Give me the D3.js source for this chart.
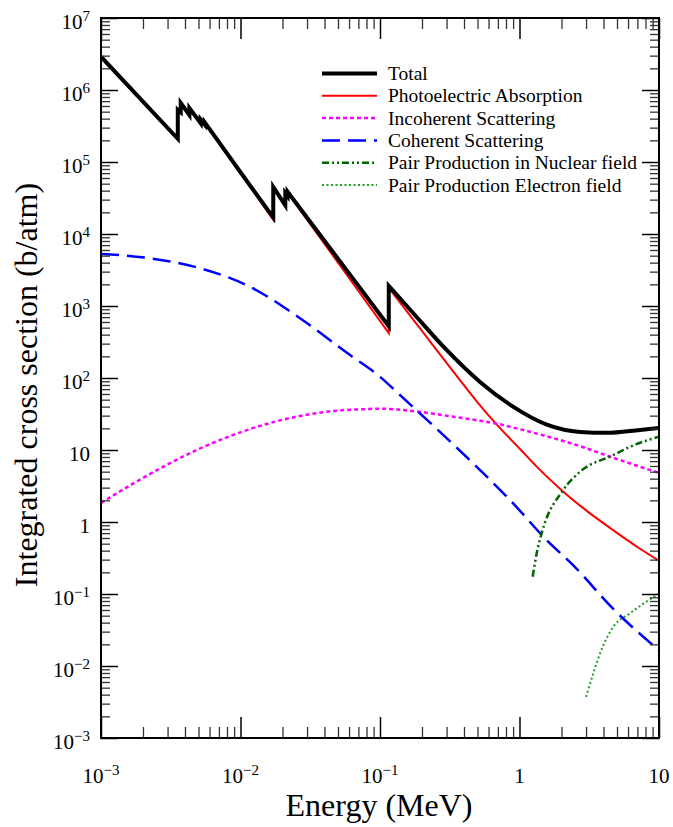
<!DOCTYPE html>
<html>
<head>
<meta charset="utf-8">
<script src="https://cdn.jsdelivr.net/npm/d3@7"></script>
<style>
  body { margin: 0; background: #fff; }
  svg { display: block; }
  text { fill: #000; }
</style>
</head>
<body>
<svg id="chart" width="673" height="827" font-family="'Liberation Serif', 'Times New Roman', 'DejaVu Serif', serif"></svg>
<script>
// Photon cross sections, energy in MeV, cross section in barns/atom.
// Absorption edges appear as two points at the same energy (below / above).
const totalData = [
  [1e-3, 2.9e6], [3.552e-3, 2.1e5], [3.552e-3, 5.3e5], [3.728e-3, 4.9e5], [3.728e-3, 6.6e5],
  [4.303e-3, 4.5e5], [4.303e-3, 5.6e5], [5.182e-3, 3.45e5], [5.182e-3, 3.9e5],
  [5.548e-3, 3.3e5], [5.548e-3, 3.55e5], [1e-2, 7.2e4], [1.717e-2, 1.7e4], [1.717e-2, 4.5e4],
  [2.095e-2, 2.5e4], [2.095e-2, 3.7e4], [2.176e-2, 3.35e4], [2.176e-2, 3.85e4],
  [0.1156, 525], [0.1156, 1900], [0.1727, 800], [0.3, 245], [0.521, 88], [0.898, 40],
  [1.57, 22.5], [2.72, 17.8], [4.24, 17.3], [7.31, 19], [10, 20.2]
];
const photoData = [
  [1e-3, 2.88e6], [3.552e-3, 2.05e5], [3.552e-3, 5.25e5], [3.728e-3, 4.85e5], [3.728e-3, 6.55e5],
  [4.303e-3, 4.45e5], [4.303e-3, 5.55e5], [5.182e-3, 3.4e5], [5.182e-3, 3.85e5],
  [5.548e-3, 3.25e5], [5.548e-3, 3.5e5], [1e-2, 7.0e4], [1.717e-2, 1.57e4], [1.717e-2, 4.35e4],
  [2.095e-2, 2.4e4], [2.095e-2, 3.6e4], [2.176e-2, 3.25e4], [2.176e-2, 3.75e4],
  [0.1156, 420], [0.1156, 1780], [0.15, 930], [0.2, 450], [0.3, 162], [0.5, 46], [0.667, 24],
  [1.0, 10.5], [1.4, 5.3], [2.06, 2.64], [3.0, 1.45], [4.7, 0.77], [7, 0.45], [10, 0.29]
];
const incoherentData = [
  [1e-3, 1.84], [1.71e-3, 3.44], [2.96e-3, 6.2], [5.13e-3, 10.5], [8.87e-3, 16.2],
  [0.0154, 23], [0.0267, 29.7], [0.0463, 34.8], [0.0803, 37], [0.1, 37.5], [0.183, 34.3],
  [0.3, 30], [0.521, 25.5], [0.667, 23.5], [1.0, 19.5], [1.567, 15.5], [2.72, 11.3],
  [4.7, 7.8], [10, 4.8]
];
const coherentData = [
  [1e-3, 5300], [2.24e-3, 4600], [5.13e-3, 3340], [0.0117, 1850], [0.0267, 675],
  [0.061, 208], [0.1, 104], [0.139, 58], [0.521, 5.27], [0.855, 2.02], [1.567, 0.56],
  [2.43, 0.25], [4.7, 0.062], [10, 0.0165]
];
const pairNuclearData = [
  [1.243, 0.174], [1.328, 0.367], [1.442, 0.70], [2.06, 2.78], [2.72, 5.0],
  [4.7, 8.5], [6.2, 11.1], [10, 15.3]
];
const pairElectronData = [
  [3.0, 0.0037], [3.38, 0.0079], [3.78, 0.015], [4.7, 0.035], [6.2, 0.054], [10, 0.102]
];

const seriesLabels = [
  "Total", "Photoelectric Absorption", "Incoherent Scattering",
  "Coherent Scattering", "Pair Production in Nuclear field", "Pair Production Electron field"
];

// Axis ranges and major tick labels ([mantissa, exponent])
const xDomain = [1e-3, 10];
const yDomain = [1e-3, 1e7];
const xMajorTicks = [1e-3, 1e-2, 1e-1, 1, 10];
const xTickLabels = [["10", "\u22123"], ["10", "\u22122"], ["10", "\u22121"], ["1", ""], ["10", ""]];
const yMajorTicks = [1e7, 1e6, 1e5, 1e4, 1e3, 1e2, 10, 1, 1e-1, 1e-2, 1e-3];
const yTickLabels = [["10", "7"], ["10", "6"], ["10", "5"], ["10", "4"], ["10", "3"], ["10", "2"],
  ["10", ""], ["1", ""], ["10", "\u22121"], ["10", "\u22122"], ["10", "\u22123"]];
const xTitle = "Energy (MeV)";
const yTitle = "Integrated cross section (b/atm)";

// ---- layout ----
const P = { left: 101, right: 659, top: 18, bottom: 738 };
const svg = d3.select("#chart");
const x = d3.scaleLog().domain(xDomain).range([P.left, P.right]);
const y = d3.scaleLog().domain(yDomain).range([P.bottom, P.top]);

function minorTicks(domain) {
  const out = [];
  const e0 = Math.round(Math.log10(domain[0])), e1 = Math.round(Math.log10(domain[1]));
  for (let e = e0; e < e1; e++) for (let k = 2; k <= 9; k++) out.push(k * Math.pow(10, e));
  return out;
}

svg.append("defs").append("clipPath").attr("id", "plotClip")
  .append("rect").attr("x", P.left).attr("y", P.top)
  .attr("width", P.right - P.left).attr("height", P.bottom - P.top);

// ---- curves ----
const lineGen = d3.line().x(d => x(d[0])).y(d => y(d[1])).curve(d3.curveMonotoneX);
function pathFor(data) {
  // split at edges (repeated energies) so each piece is monotone in x, then join with vertical steps
  const runs = [];
  let cur = [data[0]];
  for (let i = 1; i < data.length; i++) {
    if (data[i][0] === data[i - 1][0]) { runs.push(cur); cur = [data[i]]; }
    else cur.push(data[i]);
  }
  runs.push(cur);
  return runs.map((r, i) => {
    const p = lineGen(r.length === 1 ? [r[0], r[0]] : r);
    return i ? "L" + p.slice(1) : p;
  }).join("");
}

const styles = [
  { color: "#000000", width: 4, dash: null },
  { color: "#ff0000", width: 2, dash: null },
  { color: "#ff00ff", width: 2.5, dash: "4,3" },
  { color: "#0000ff", width: 2.5, dash: "18,8" },
  { color: "#006400", width: 2.5, dash: "7,3,2,3,2,3" },
  { color: "#1fa01f", width: 2, dash: "2,2.5" }
];
const seriesData = [totalData, photoData, incoherentData, coherentData, pairNuclearData, pairElectronData];

const plot = svg.append("g").attr("clip-path", "url(#plotClip)");
// components first, total on top
[1, 2, 3, 4, 5, 0].forEach(i => {
  plot.append("path")
    .attr("d", pathFor(seriesData[i]))
    .attr("fill", "none")
    .attr("stroke", styles[i].color)
    .attr("stroke-width", styles[i].width)
    .attr("stroke-dasharray", styles[i].dash)
    .attr("stroke-linejoin", "miter");
});

// ---- axes: ticks on all four sides, pointing inward ----
function tickRow(axisFn, scale, values, len, transform, color, width) {
  const g = svg.append("g").attr("transform", transform)
    .call(axisFn(scale).tickValues(values).tickSize(-len).tickFormat(""));
  g.select(".domain").remove();
  g.selectAll("line").attr("stroke", color).attr("stroke-width", width);
}
const xMinor = minorTicks(xDomain), yMinor = minorTicks(yDomain);
tickRow(d3.axisBottom, x, xMajorTicks, 21, `translate(0,${P.bottom})`, "#000", 1.5);
tickRow(d3.axisBottom, x, xMinor, 11, `translate(0,${P.bottom})`, "#333", 1.3);
tickRow(d3.axisTop, x, xMajorTicks, 21, `translate(0,${P.top})`, "#000", 1.5);
tickRow(d3.axisTop, x, xMinor, 11, `translate(0,${P.top})`, "#333", 1.3);
tickRow(d3.axisLeft, y, yMajorTicks, 17, `translate(${P.left},0)`, "#000", 1.5);
tickRow(d3.axisLeft, y, yMinor, 9, `translate(${P.left},0)`, "#333", 1.3);
tickRow(d3.axisRight, y, yMajorTicks, 17, `translate(${P.right},0)`, "#000", 1.5);
tickRow(d3.axisRight, y, yMinor, 9, `translate(${P.right},0)`, "#333", 1.3);

svg.append("rect")
  .attr("x", P.left).attr("y", P.top)
  .attr("width", P.right - P.left).attr("height", P.bottom - P.top)
  .attr("fill", "none").attr("stroke", "#000").attr("stroke-width", 2);

// ---- tick labels ----
function powerLabel(t, lab) {
  t.append("tspan").text(lab[0]);
  if (lab[1]) t.append("tspan").attr("dy", -8).attr("font-size", 15).text(lab[1]);
}
xMajorTicks.forEach((v, i) => {
  const t = svg.append("text").attr("x", x(v)).attr("y", 783)
    .attr("text-anchor", "middle").attr("font-size", 21);
  powerLabel(t, xTickLabels[i]);
});
yMajorTicks.forEach((v, i) => {
  const t = svg.append("text").attr("x", 90).attr("y", y(v) + 10.5)
    .attr("text-anchor", "end").attr("font-size", 21);
  powerLabel(t, yTickLabels[i]);
});

// ---- axis titles ----
svg.append("text").attr("x", 379).attr("y", 816).attr("text-anchor", "middle")
  .attr("font-size", 32).text(xTitle);
svg.append("text").attr("transform", "translate(37,385) rotate(-90)")
  .attr("text-anchor", "middle").attr("font-size", 32).text(yTitle);

// ---- legend ----
const legend = svg.append("g");
seriesLabels.forEach((lab, i) => {
  const ly = 73.5 + i * 22.3;
  legend.append("line").attr("x1", 322).attr("x2", 377).attr("y1", ly).attr("y2", ly)
    .attr("stroke", styles[i].color).attr("stroke-width", styles[i].width)
    .attr("stroke-dasharray", styles[i].dash);
  legend.append("text").attr("x", 388).attr("y", ly + 6.5).attr("font-size", 19.5).text(lab);
});
</script>
</body>
</html>
